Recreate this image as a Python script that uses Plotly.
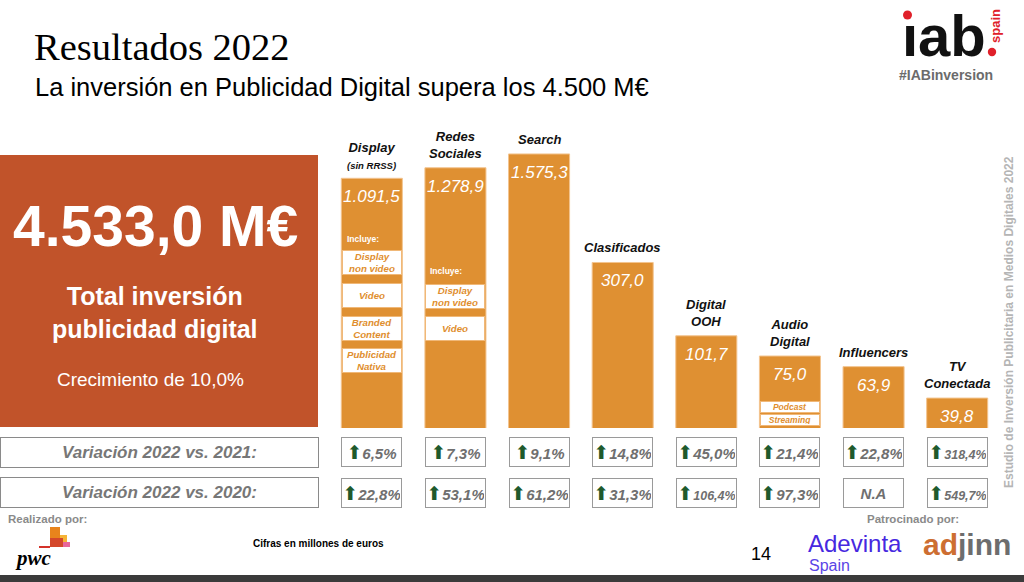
import math
import plotly.graph_objects as go

# ---------------- data ----------------
categories = ["Display", "Redes Sociales", "Search", "Clasificados",
              "Digital OOH", "Audio Digital", "Influencers", "TV Conectada"]
category_titles = [["Display", "(sin RRSS)"], ["Redes", "Sociales"], ["Search"], ["Clasificados"],
                   ["Digital", "OOH"], ["Audio", "Digital"], ["Influencers"], ["TV", "Conectada"]]
values = [1091.5, 1278.9, 1575.3, 307.0, 101.7, 75.0, 63.9, 39.8]
var_vs_2021 = [6.5, 7.3, 9.1, 14.8, 45.0, 21.4, 22.8, 318.4]
var_vs_2020 = [22.8, 53.1, 61.2, 31.3, 106.4, 97.3, None, 549.7]
row_labels = ["Variación 2022 vs. 2021:", "Variación 2022 vs. 2020:"]
includes_display = ["Display<br>non video", "Video", "Branded<br>Content", "Publicidad<br>Nativa"]
includes_social = ["Display<br>non video", "Video"]
includes_audio = ["Podcast", "Streaming"]
total_investment = 4533.0
total_growth = 10.0

# ---------------- helpers ----------------
W, H = 1024, 582
ORANGE = "#DF9032"
RUST = "#C1532A"
GRAY = "#6f6f6f"
GREEN = "#1f5a2c"
SANS = "Liberation Sans, Arial, sans-serif"


def es(v, d=1):
    s = f"{v:,.{d}f}"
    return s.replace(",", "_").replace(".", ",").replace("_", ".")


def PX(x):
    return x / W


def PY(y):
    return 1 - y / H


ann = []
shapes = []


def text(x, y, t, size, color="#000", family=SANS, xanchor="left", yanchor="middle", **kw):
    ann.append(dict(x=PX(x), y=PY(y), xref="paper", yref="paper", text=t, showarrow=False,
                    font=dict(size=size, color=color, family=family),
                    xanchor=xanchor, yanchor=yanchor, **kw))


def rect(x0, y0, x1, y1, color, line=None):
    shapes.append(dict(type="rect", xref="paper", yref="paper", x0=PX(x0), x1=PX(x1),
                       y0=PY(y1), y1=PY(y0), fillcolor=color,
                       line=dict(width=0) if line is None else line, layer="below"))


def circle(cx, cy, r, color):
    shapes.append(dict(type="circle", xref="paper", yref="paper", x0=PX(cx - r), x1=PX(cx + r),
                       y0=PY(cy + r), y1=PY(cy - r), fillcolor=color, line=dict(width=0)))


# ---------------- figure ----------------
fig = go.Figure()
fig.add_trace(go.Bar(
    x=categories, y=values, width=0.73,
    marker=dict(color=ORANGE, line=dict(color="#F3C48F", width=1)),
    hoverinfo="skip", showlegend=False,
))

# value labels and category titles
for c, v, t in zip(categories, values, category_titles):
    ann.append(dict(x=c, y=math.log10(v), xref="x", yref="y", showarrow=False,
                    text="<i>" + es(v) + "</i>", xanchor="center", yanchor="top", yshift=-7,
                    font=dict(size=17, color="white", family=SANS)))
    if len(t) == 2 and t[1].startswith("("):
        lab = "<b><i>" + t[0] + "</i></b><br><span style='font-size:9.5px'><b><i>" + t[1] + "</i></b></span>"
    else:
        lab = "<br>".join("<b><i>" + s + "</i></b>" for s in t)
    ann.append(dict(x=c, y=math.log10(v), xref="x", yref="y", showarrow=False, text=lab,
                    xanchor="center", yanchor="bottom", yshift=5,
                    font=dict(size=13, color="#111", family=SANS)))


# "Incluye" sub boxes
def subbox(cat, centers, items, h, size):
    for yc, it in zip(centers, items):
        ann.append(dict(x=cat, y=PY(yc), xref="x", yref="paper", showarrow=False,
                        xanchor="center", yanchor="middle",
                        text="<b><i>" + it + "</i></b>", width=56, height=h,
                        bgcolor="white", bordercolor="#F0B878", borderwidth=1, borderpad=1,
                        font=dict(size=size, color="#E08E2E", family=SANS)))


for cat, yinc in [(categories[0], 239), (categories[1], 271)]:
    ann.append(dict(x=cat, y=PY(yinc), xref="x", yref="paper", showarrow=False,
                    text="<b>Incluye:</b>", xanchor="left", yanchor="middle", xshift=-27,
                    font=dict(size=8.5, color="white", family=SANS)))
subbox(categories[0], [263, 295.3, 328.2, 360.8], includes_display, 21, 9.7)
subbox(categories[1], [296, 328.5], includes_social, 21, 9.7)
subbox(categories[5], [406.5, 420], includes_audio, 8, 8.5)

# variation rows
arrow = "<span style='color:%s;font-family:DejaVu Sans;font-size:19px'>⬆</span>" % GREEN
for row, (vals, yc) in enumerate([(var_vs_2021, 452), (var_vs_2020, 492.5)]):
    text(159.5, yc, "<b><i>" + row_labels[row] + "</i></b>", 17, color="#777777",
         xanchor="center", width=315, height=27, bordercolor="#8a8a8a", borderwidth=1,
         borderpad=1, bgcolor="white")
    for c, v in zip(categories, vals):
        if v is None:
            t, fs = "<b><i>N.A</i></b>", 15
        else:
            s = es(v) + "%"
            fs = 15 if len(s) <= 5 else 12.5
            t = arrow + "<b><i>" + s + "</i></b>"
        ann.append(dict(x=c, y=PY(yc), xref="x", yref="paper", showarrow=False, text=t,
                        xanchor="center", yanchor="middle",
                        width=57, height=26, bgcolor="white", bordercolor="#9a9a9a",
                        borderwidth=1, borderpad=1,
                        font=dict(size=fs, color=GRAY, family=SANS)))

# title
text(32, 47, "Resultados 2022", 38.5, family="Liberation Serif, Times New Roman, serif")
text(33, 87, "La inversión en Publicidad Digital supera los 4.500 M€", 25.5)

# big total box
rect(0, 155, 318, 427, RUST)
text(155, 226, "<b>" + es(total_investment) + " M€</b>", 57, color="white", xanchor="center")
text(155, 312, "<b>Total inversión<br>publicidad digital</b>", 25, color="white", xanchor="center")
text(150, 379, "Crecimiento de " + es(total_growth) + "%", 19, color="white", xanchor="center")

# IAB logo
text(900, 35, "<b>ıab</b>", 58, color="#111")
circle(907.5, 15, 4.5, "#E0202A")
circle(992, 52, 4.2, "#E0202A")
text(996, 26, "<b>spain</b>", 13, color="#E0202A", xanchor="center", textangle=-90)
text(946, 75, "<b>#IABinversion</b>", 14, color="#6b6b6b", xanchor="center")

# vertical side text
text(1009, 322, "<b>Estudio de Inversión Publicitaria en Medios Digitales 2022</b>", 12,
     color="#b5b5b5", xanchor="center", textangle=-90)

# footer
rect(0, 575, 1024, 582, "#3b3b3b")
text(6, 519, "<b>Realizado por:</b>", 11.5, color="#8a8a8a")
rect(50, 527, 60, 547, "#E8841C")
rect(60, 535, 67, 547, "#F5B335")
rect(50, 538, 63, 547, "#D4482A")
rect(63, 542, 70, 547, "#E8669B")
rect(39, 546, 50, 548, "#D4322A")
text(13, 558, "<b><i>pwc</i></b>", 21, family="Liberation Serif, serif")
text(251, 543, "<b>Cifras en millones de euros</b>", 10)
text(749, 554, "14", 18)
text(865, 519, "<b>Patrocinado por:</b>", 11.5, color="#8a8a8a")
text(806, 543, "Adevinta", 24, color="#4628E0")
text(807, 565, "Spain", 16, color="#5a45e6")
text(921, 544, "<b><span style='color:#CD6E32'>ad</span><span style='color:#6d6d6d'>jinn</span></b>", 30)

fig.update_layout(
    width=W, height=H, autosize=False,
    margin=dict(l=0, r=0, t=0, b=0),
    paper_bgcolor="white", plot_bgcolor="white",
    xaxis=dict(domain=[330 / W, 999 / W], showticklabels=False, showgrid=False,
               zeroline=False, showline=False, fixedrange=True),
    yaxis=dict(type="log", domain=[(H - 428) / H, (H - 130) / H], range=[1.404, 3.354],
               showticklabels=False, showgrid=False, zeroline=False, showline=False,
               fixedrange=True),
    annotations=ann, shapes=shapes,
    font=dict(family=SANS),
)

fig.write_html("out.html", config={"displayModeBar": False},
               post_script="document.body.style.margin='0';document.body.style.overflow='hidden';")
